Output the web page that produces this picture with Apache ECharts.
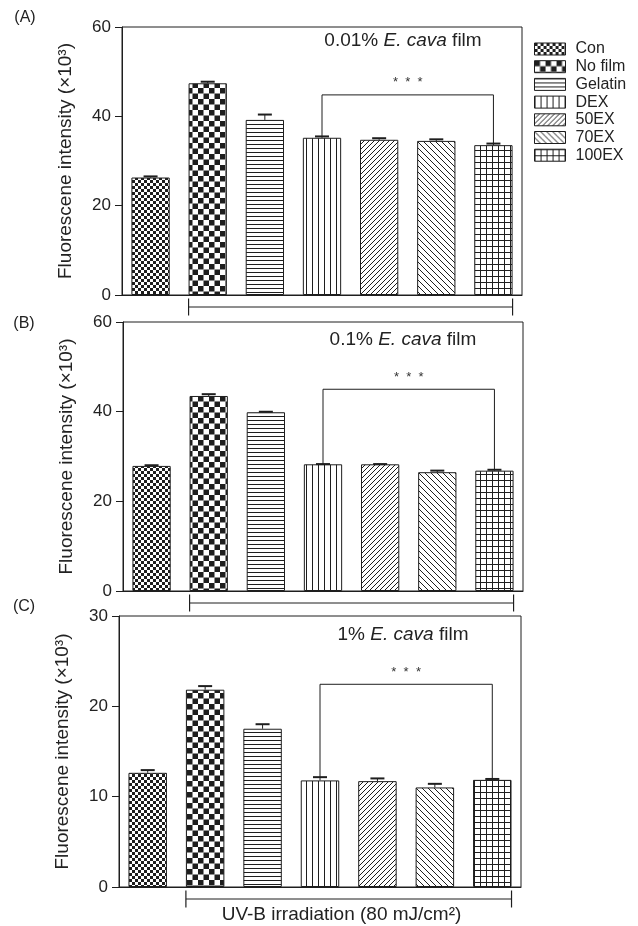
<!DOCTYPE html>
<html><head><meta charset="utf-8">
<script src="https://cdn.jsdelivr.net/npm/echarts@6/dist/echarts.min.js"></script>
<style>html,body{margin:0;padding:0;background:#fff}#c{width:638px;height:926px}</style>
</head><body><div id="c"></div>
<script>
// ---- data ----
const categories = ['Con', 'No film', 'Gelatin', 'DEX', '50EX', '70EX', '100EX'];
const valuesA = [26.3, 47.4, 39.2, 35.2, 34.75, 34.5, 33.55];
const errorsA = [0.25, 0.35, 1.2, 0.3, 0.35, 0.35, 0.35];
const valuesB = [27.9, 43.5, 39.86, 28.26, 28.26, 26.5, 26.84];
const errorsB = [0.15, 0.4, 0.12, 0.05, 0.05, 0.35, 0.2];
const valuesC = [12.64, 21.84, 17.52, 11.8, 11.72, 11.02, 11.86];
const errorsC = [0.3, 0.4, 0.5, 0.36, 0.3, 0.4, 0.1];
const bracketLevels = [44.8, 45.0, 22.44];
const yMaxes = [60, 60, 30];
const yIntervals = [20, 20, 10];
const filmLabels = ['0.01%', '0.1%', '1%'];
const panelLetters = ['(A)', '(B)', '(C)'];
const yAxisTitle = 'Fluorescene intensity (×10³)';
const xAxisTitle = 'UV-B irradiation (80 mJ/cm²)';
const sigLabel = '*  *  *';

// ---- patterns ----
const INK = '#1e1e1e';
function makePattern(kind) {
  const c = document.createElement('canvas');
  let s = 6;
  if (kind === 'fine') s = 6;
  if (kind === 'big') s = 11;
  if (kind === 'h') s = 4;
  if (kind === 'v') s = 6;
  if (kind === 'd') s = 5;
  if (kind === 'a') s = 6;
  if (kind === 'g') s = 6;
  c.width = s; c.height = s;
  const ctx = c.getContext('2d');
  ctx.fillStyle = '#fff'; ctx.fillRect(0, 0, s, s);
  ctx.fillStyle = INK; ctx.strokeStyle = INK; ctx.lineWidth = 1;
  if (kind === 'fine') { ctx.fillRect(0, 0, 3, 3); ctx.fillRect(3, 3, 3, 3); }
  if (kind === 'big') { ctx.fillRect(0, 0, 5.5, 5.5); ctx.fillRect(5.5, 5.5, 5.5, 5.5); }
  if (kind === 'h') { ctx.fillRect(0, 0, s, 1); }
  if (kind === 'v') { ctx.fillRect(0, 0, 1, s); }
  if (kind === 'g') { ctx.fillRect(0, 0, s, 1); ctx.fillRect(0, 0, 1, s); }
  if (kind === 'd') {
    ctx.beginPath();
    ctx.moveTo(-1, s + 1); ctx.lineTo(s + 1, -1);
    ctx.moveTo(-1, 1); ctx.lineTo(1, -1);
    ctx.moveTo(s - 1, s + 1); ctx.lineTo(s + 1, s - 1);
    ctx.stroke();
  }
  if (kind === 'a') {
    ctx.beginPath();
    ctx.moveTo(-1, -1); ctx.lineTo(s + 1, s + 1);
    ctx.moveTo(s - 1, -1); ctx.lineTo(s + 1, 1);
    ctx.moveTo(-1, s - 1); ctx.lineTo(1, s + 1);
    ctx.stroke();
  }
  return c;
}
const patternKinds = ['fine', 'big', 'h', 'v', 'd', 'a', 'g'];
const patterns = patternKinds.map(makePattern);

const panels = [
  { values: valuesA, errors: errorsA, grid: { left: 122, top: 27, width: 400, height: 268 } },
  { values: valuesB, errors: errorsB, grid: { left: 123, top: 322, width: 400, height: 269 } },
  { values: valuesC, errors: errorsC, grid: { left: 119, top: 616, width: 402, height: 271 } }
];
const titleCenters = [[403, 40.5], [403, 339.5], [403, 635]];
const letterPos = [[25, 18], [24, 324], [24, 607]];
const FONT = '"Liberation Sans", Arial, sans-serif';
const BAR_FRAC = 0.67;

function errorRender(params, api) {
  const x = api.value(0), v = api.value(1), e = api.value(2);
  const p0 = api.coord([x, v]), p1 = api.coord([x, v + e]);
  const hw = 7;
  return { type: 'group', children: [
    { type: 'line', shape: { x1: p0[0], y1: p0[1], x2: p1[0], y2: p1[1] }, style: { stroke: INK, lineWidth: 1 } },
    { type: 'line', shape: { x1: p1[0] - hw, y1: p1[1], x2: p1[0] + hw, y2: p1[1] }, style: { stroke: INK, lineWidth: 2 } }
  ]};
}
function bracketRender(params, api) {
  const a = api.value(0), b = api.value(1), y = api.value(2), ta = api.value(3), tb = api.value(4);
  const p1 = api.coord([a, ta]), p2 = api.coord([a, y]), p3 = api.coord([b, y]), p4 = api.coord([b, tb]);
  return { type: 'group', children: [
    { type: 'polyline', shape: { points: [p1, p2, p3, p4] }, style: { stroke: INK, lineWidth: 1, fill: null } },
    { type: 'text', x: (p2[0] + p3[0]) / 2, y: p2[1] - 12,
      style: { text: sigLabel, fontSize: 13, fontFamily: FONT, fill: '#333', align: 'center', verticalAlign: 'middle' } }
  ]};
}
function baseRender(params, api) {
  const a = api.value(0), b = api.value(1);
  const bw = api.size([1, 0])[0] * BAR_FRAC;
  const pa = api.coord([a, 0]), pb = api.coord([b, 0]);
  const y = pa[1] + 12, x1 = pa[0] - bw / 2, x2 = pb[0] + bw / 2, t = 8.5;
  return { type: 'group', children: [
    { type: 'line', shape: { x1: x1, y1: y, x2: x2, y2: y }, style: { stroke: INK, lineWidth: 1 } },
    { type: 'line', shape: { x1: x1, y1: y - t, x2: x1, y2: y + t }, style: { stroke: INK, lineWidth: 1.2 } },
    { type: 'line', shape: { x1: x2, y1: y - t, x2: x2, y2: y + t }, style: { stroke: INK, lineWidth: 1.2 } }
  ]};
}

const grids = [], xAxes = [], yAxes = [], series = [], graphics = [];
panels.forEach((p, gi) => {
  grids.push(Object.assign({ show: true, borderColor: INK, borderWidth: 1, backgroundColor: 'transparent', containLabel: false }, p.grid));
  xAxes.push({ gridIndex: gi, type: 'category', data: categories,
    axisLine: { show: true, lineStyle: { color: INK, width: 1 } }, axisTick: { show: false }, axisLabel: { show: false }, splitLine: { show: false } });
  yAxes.push({ gridIndex: gi, type: 'value', min: 0, max: yMaxes[gi], interval: yIntervals[gi],
    axisLine: { show: true, lineStyle: { color: INK, width: 1 } },
    axisTick: { show: true, length: 7, lineStyle: { color: INK } },
    splitLine: { show: false },
    axisLabel: { fontSize: 17, color: '#222', margin: 11, fontFamily: FONT },
    name: yAxisTitle, nameLocation: 'middle', nameGap: 47,
    nameTextStyle: { fontSize: 19, color: '#222', fontFamily: FONT } });
  categories.forEach((name, ci) => {
    series.push({ type: 'bar', name: name, xAxisIndex: gi, yAxisIndex: gi,
      data: p.values.map((v, k) => (k === ci ? v : '-')),
      barWidth: (BAR_FRAC * 100) + '%', barGap: '-100%',
      itemStyle: { color: { image: patterns[ci], repeat: 'repeat' }, borderColor: INK, borderWidth: 1 },
      silent: true });
  });
  series.push({ type: 'custom', xAxisIndex: gi, yAxisIndex: gi, renderItem: errorRender, z: 5, silent: true,
    encode: { x: 0, y: 1 }, data: p.values.map((v, k) => [k, v, p.errors[k]]) });
  series.push({ type: 'custom', xAxisIndex: gi, yAxisIndex: gi, renderItem: bracketRender, z: 5, silent: true,
    encode: { x: 0, y: 2 }, data: [[3, 6, bracketLevels[gi], p.values[3] + p.errors[3], p.values[6] + p.errors[6]]] });
  series.push({ type: 'custom', xAxisIndex: gi, yAxisIndex: gi, renderItem: baseRender, z: 5, silent: true, clip: false,
    encode: { x: 0, y: 2 }, data: [[1, 6, 0]] });
  graphics.push({ type: 'text', x: titleCenters[gi][0], y: titleCenters[gi][1],
    style: { text: '{n|' + filmLabels[gi] + ' }{i|E. cava}{n| film}', align: 'center', verticalAlign: 'middle',
      rich: { n: { fontSize: 19, fontFamily: FONT, fill: '#222' }, i: { fontSize: 19, fontFamily: FONT, fontStyle: 'italic', fill: '#222' } } } });
  graphics.push({ type: 'text', x: letterPos[gi][0], y: letterPos[gi][1],
    style: { text: panelLetters[gi], fontSize: 16, fontFamily: FONT, fill: '#222', align: 'center', verticalAlign: 'middle' } });
});
graphics.push({ type: 'text', x: 341.5, y: 915,
  style: { text: xAxisTitle, fontSize: 19, fontFamily: FONT, fill: '#222', align: 'center', verticalAlign: 'middle' } });

const chart = echarts.init(document.getElementById('c'), null, { renderer: 'canvas' });
chart.setOption({
  animation: false,
  backgroundColor: '#fff',
  textStyle: { fontFamily: FONT },
  legend: { data: categories, orient: 'vertical', left: 529, top: 36, icon: 'rect', itemWidth: 31, itemHeight: 12, itemGap: 1.7,
    selectedMode: false, textStyle: { fontSize: 16, color: '#222', fontFamily: FONT, padding: [0, 0, 0, 5] },
    itemStyle: { borderColor: INK, borderWidth: 1 } },
  grid: grids, xAxis: xAxes, yAxis: yAxes, series: series, graphic: graphics
});
</script></body></html>
